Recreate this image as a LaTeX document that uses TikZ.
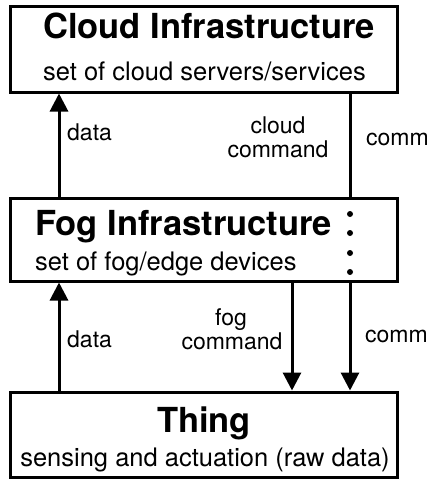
\documentclass[tikz,border=0pt]{standalone}
\usepackage{fontspec}
\setmainfont{TeX Gyre Heros}
\usetikzlibrary{arrows.meta}

\tikzset{
  layer/.style={draw, line width=3pt, rectangle, inner sep=0pt, minimum width=387pt},
  titletext/.style={inner sep=0pt, font=\fontsize{34.5}{40}\selectfont\bfseries},
  subtext/.style={inner sep=0pt, font=\fontsize{25.5}{30}\selectfont},
  lbl/.style={inner sep=0pt, font=\fontsize{23}{27}\selectfont},
  link/.style={line width=3pt},
  flow/.style={line width=3pt, -{Triangle[width=18pt,length=18pt]}},
  dotmark/.style={fill, circle, inner sep=0pt, minimum size=6pt}
}

\begin{document}
\begin{tikzpicture}[x=1pt,y=-1pt]
  \useasboundingbox (0,0) rectangle (433,480);

  % the three layers
  \node[layer, minimum height=86pt] (cloud) at (203.5,49) {};
  \node[layer, minimum height=83pt] (fog)   at (203.5,239.5) {};
  \node[layer, minimum height=85pt] (thing) at (203.5,434.5) {};

  % layer captions
  \node[titletext, anchor=base west] (cloudT) at (43,38) {Cloud Infrastructure};
  \node[subtext, anchor=base west]   (cloudS) at (43,80) {set of cloud servers/services};
  \node[titletext, anchor=base west] (fogT)   at (35,235) {Fog Infrastructure};
  \node[subtext, anchor=base west]   (fogS)   at (35,270) {set of fog/edge devices};
  \node[titletext, anchor=base] (thingT) at (204,432) {Thing};
  \node[subtext, anchor=base]   (thingS) at (205,466) {sensing and actuation (raw data)};

  % columns of the connectors
  \coordinate (xL) at (59,0);
  \coordinate (xM) at (292,0);
  \coordinate (xR) at (350,0);

  % fog <-> cloud
  \draw[flow] (fog.north -| xL) -- (cloud.south -| xL);
  \draw[link] (cloud.south -| xR) -- (fog.north -| xR);

  % passage of the cloud command through the fog layer
  \node[dotmark] (d1) at (350,214) {};
  \node[dotmark] (d2) at (350,233) {};
  \node[dotmark] (d3) at (350,253) {};
  \node[dotmark] (d4) at (350,272) {};

  % thing <-> fog
  \draw[flow] (thing.north -| xL) -- (fog.south -| xL);
  \draw[flow] (fog.south -| xM) -- (thing.north -| xM);
  \draw[flow] (fog.south -| xR) -- (thing.north -| xR);

  % connector labels
  \node[lbl, anchor=base west] (dataU) at (67,140) {data};
  \node[lbl, anchor=base] (ccmd1) at (278,133) {cloud};
  \node[lbl, anchor=base] (ccmd2) at (278,157) {command};
  \node[lbl, anchor=base west] (commU) at (366,145) {comm};

  \node[lbl, anchor=base west] (dataL) at (67,347) {data};
  \node[lbl, anchor=base] (fcmd1) at (231,325) {fog};
  \node[lbl, anchor=base] (fcmd2) at (232,349) {command};
  \node[lbl, anchor=base west] (commL) at (365,342) {comm};
\end{tikzpicture}
\end{document}
